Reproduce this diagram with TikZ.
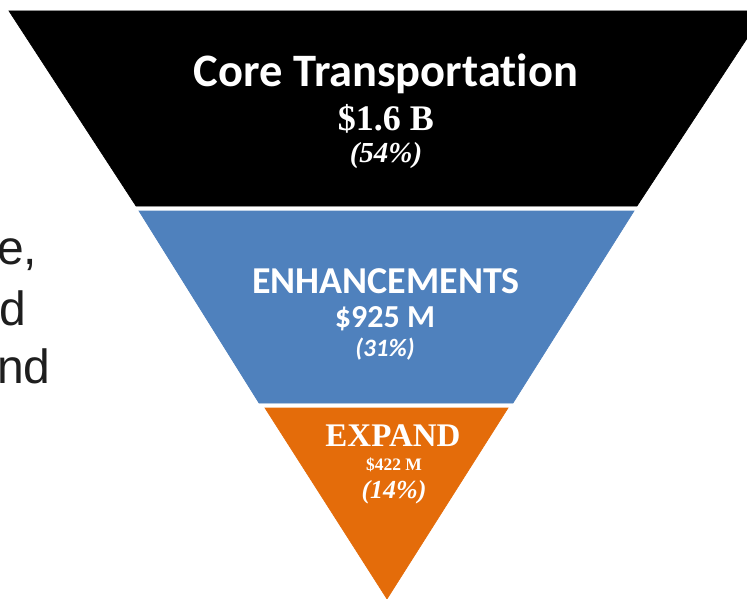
\documentclass[tikz,border=0pt]{standalone}
\usepackage{fontspec}
\setmainfont{Liberation Serif}
\newfontfamily\calib[Ligatures=NoCommon]{Carlito}
\newfontfamily\arialf{Liberation Sans}
\definecolor{bandblue}{HTML}{4F81BD}
\definecolor{bandorange}{HTML}{E46C0A}
\definecolor{sidegray}{HTML}{1E1E1E}
\newcommand{\fs}[1]{\fontsize{#1}{#1}\selectfont}
\begin{document}
\begin{tikzpicture}[x=1pt,y=-1pt,
  band/.style={draw=white,line width=0.6pt},
  lbl/.style={text=white,inner sep=0pt,anchor=base},
  side/.style={text=sidegray,inner sep=0pt,anchor=base west,font=\arialf\fs{48}}]
\useasboundingbox (0,0) rectangle (747,599);
\clip (0,0) rectangle (747,599);
\fill[white] (0,0) rectangle (747,599);

% trailing words of the text column on the left
\node[side] (s1) at (-3,264) {e,};
\node[side] (s2) at (-1,325) {d};
\node[side] (s3) at (-3,383) {nd};

% funnel bands
\fill[band,black] (9,11) -- (765,11) -- (637,206) -- (136,206) -- cycle;
\fill[band,bandblue] (139,211) -- (634,211) -- (513,403) -- (259,403) -- cycle;
\fill[band,bandorange] (265,408) -- (508,408) -- (387,599) -- cycle;

% top band
\node[lbl,font=\calib\bfseries\fs{46.5}] (t1) at (386,87) {Core Transportation};
\node[lbl,font=\bfseries\fs{36}] (t2) at (386,131) {\$1.6 B};
\node[lbl,font=\bfseries\itshape\fs{29}] (t3) at (386,163) {(54\%)};

% middle band
\node[lbl,font=\calib\bfseries\fs{38}] (m1) at (386,293) {ENHANCEMENTS};
\node[lbl,font=\calib\bfseries\fs{32}] (m2) at (385,327) {\$925 M};
\node[lbl,font=\calib\bfseries\itshape\fs{25}] (m3) at (385,356) {(31\%)};

% bottom band
\node[lbl,font=\bfseries\fs{33}] (b1) at (393,446) {EXPAND};
\node[lbl,font=\bfseries\fs{17.5}] (b2) at (394,470) {\$422 M};
\node[lbl,font=\bfseries\itshape\fs{26}] (b3) at (394,498) {(14\%)};
\end{tikzpicture}
\end{document}
